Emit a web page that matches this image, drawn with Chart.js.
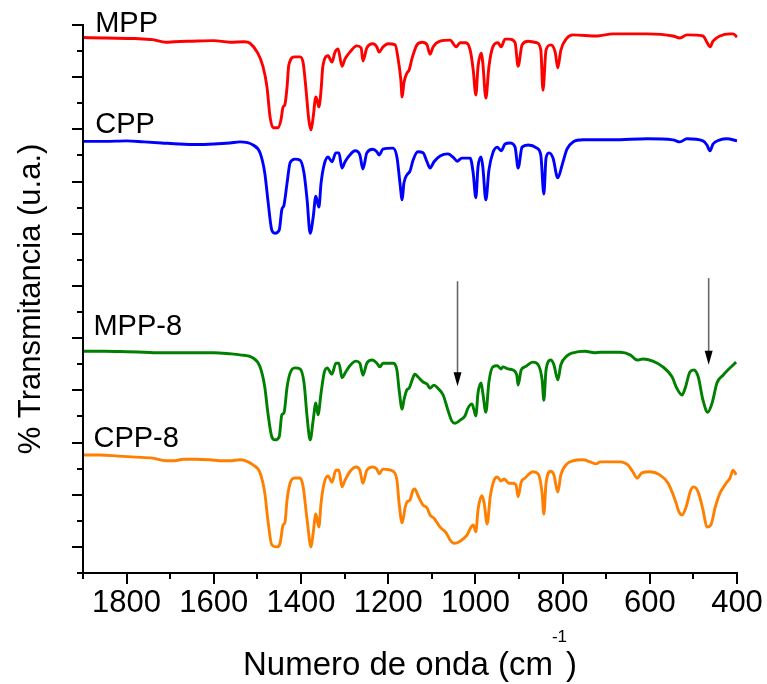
<!DOCTYPE html>
<html>
<head>
<meta charset="utf-8">
<script src="https://cdn.jsdelivr.net/npm/chart.js@4.4.1/dist/chart.umd.min.js"></script>
<style>
html,body{margin:0;padding:0;background:#ffffff;}
#wrap{width:767px;height:684px;position:relative;}
</style>
</head>
<body>
<div id="wrap"><canvas id="c" width="767" height="684"></canvas></div>
<script>
// ---------- DATA (wavenumber in cm-1, transmittance in offset arbitrary units) ----------
const mppWn = [1900,1850,1780,1740,1710,1690,1650,1600,1563,1530,1517,1499,1487,1478,1471,1464,1453,1446,1441,1437,1432,1428,1414,1402,1395,1389,1382,1377,1372,1366,1363,1359,1354,1350,1338,1329,1322,1315,1306,1299,1288,1272,1262,1258,1249,1235,1226,1221,1212,1200,1184,1178,1171,1168,1164,1157,1152,1145,1134,1122,1111,1104,1097,1081,1058,1044,1035,1022,1012,1005,999,994,987,983,976,969,960,948,941,932,921,909,902,893,879,859,850,845,838,827,817,811,804,790,776,721,684,606,547,531,515,478,469,462,455,439,416,409,400];
const mppT = [97.6,97.5,97.4,97.2,96.7,96.8,96.9,97.0,96.7,96.8,96.5,94.6,92.0,88.1,82.4,80.3,80.3,81.8,84.3,84.7,88.1,92.3,93.9,93.9,92.7,88.1,81.8,79.9,82.4,86.2,85.6,84.3,87.5,92.0,94.1,92.9,94.8,95.4,92.1,93.5,94.8,96.0,95.6,93.1,95.6,96.4,95.8,94.8,95.8,96.4,96.2,93.9,89.5,86.2,88.9,90.8,91.4,93.7,96.2,96.7,96.2,94.4,95.8,96.9,97.1,95.8,96.6,96.6,95.2,91.4,86.6,92.0,94.6,92.7,86.0,92.0,95.8,96.6,95.8,97.3,97.3,96.6,92.1,96.2,96.9,96.6,95.2,87.5,95.2,96.2,94.8,91.8,95.2,97.5,98.1,97.9,98.3,98.3,97.9,97.5,98.1,97.9,96.7,95.8,96.9,97.9,98.3,98.3,97.7];

const cppWn = [1900,1850,1800,1760,1720,1680,1640,1600,1563,1540,1510,1494,1483,1476,1467,1460,1450,1444,1439,1432,1425,1414,1402,1393,1386,1379,1372,1366,1359,1354,1347,1338,1329,1320,1313,1306,1299,1288,1276,1265,1258,1249,1235,1226,1221,1212,1189,1180,1173,1168,1164,1157,1150,1143,1132,1120,1111,1104,1095,1081,1063,1049,1042,1031,1012,1005,999,994,987,983,976,969,960,950,941,932,921,909,902,893,879,859,850,843,838,831,822,811,801,790,776,753,684,606,547,531,515,478,469,462,455,439,423,400];
const cppT = [77.7,77.7,77.8,77.6,77.4,77.2,77.1,77.2,77.4,77.6,77.0,75.5,71.6,66.5,60.7,60.1,60.7,64.6,65.5,69.7,73.6,74.3,74.1,71.6,66.5,60.1,63.2,67.2,65.1,69.7,73.2,74.7,73.8,75.5,75.5,72.6,73.8,75.1,75.9,75.1,72.4,75.5,76.2,75.7,75.1,76.2,76.4,74.7,69.7,66.5,69.7,71.3,72.0,74.1,75.7,75.5,73.8,72.6,73.8,74.9,75.3,74.5,73.9,74.5,74.5,71.6,66.9,72.8,74.7,72.8,66.5,72.2,75.5,76.6,75.9,77.2,77.4,76.6,72.6,76.6,77.0,76.4,75.1,67.6,74.5,75.5,74.5,70.7,73.2,76.2,77.6,78.0,78.0,78.2,78.0,77.6,78.2,77.8,77.0,75.9,77.2,78.0,78.2,77.8];

const mpp8Wn = [1900,1850,1800,1760,1720,1680,1640,1600,1563,1540,1510,1494,1483,1476,1467,1460,1450,1444,1439,1432,1425,1414,1402,1393,1386,1379,1372,1366,1361,1354,1347,1340,1329,1320,1313,1306,1299,1288,1274,1265,1258,1249,1237,1226,1219,1212,1189,1180,1175,1168,1164,1157,1152,1145,1139,1132,1120,1111,1104,1095,1086,1074,1063,1054,1047,1035,1024,1017,1008,1003,999,994,987,983,976,969,960,950,941,937,925,914,905,902,895,886,868,856,847,843,838,827,820,811,804,790,776,749,726,714,668,645,629,616,593,570,549,538,526,519,508,499,489,478,467,457,446,432,421,402];
const mpp8T = [37.5,37.5,37.4,37.3,37.2,37.2,37.2,37.2,37.0,36.8,36.2,34.5,30.6,25.7,21.1,20.5,21.1,25.3,25.7,30.6,33.3,34.3,34.1,31.4,24.9,20.5,24.3,27.6,25.3,29.5,33.3,34.3,33.1,35.2,35.2,32.4,33.3,34.7,35.6,35.2,32.9,35.2,35.8,35.2,34.5,35.2,35.2,33.9,30.1,26.4,28.1,30.1,30.4,32.0,33.1,32.6,31.6,31.2,30.4,31.0,30.4,29.1,26.2,24.1,23.7,24.3,25.1,26.6,27.4,26.2,25.1,29.5,31.4,29.5,25.8,31.6,34.5,34.7,34.1,34.5,34.1,33.9,32.9,31.0,33.9,34.5,35.4,34.9,32.0,28.1,33.9,35.8,34.9,32.0,34.9,36.6,37.2,37.5,37.2,37.3,37.3,36.8,35.8,36.0,35.6,34.5,32.6,30.4,29.1,30.4,33.5,33.9,32.6,28.1,25.8,27.6,31.4,32.9,33.9,35.4];

const cpp8Wn = [1900,1860,1820,1780,1740,1710,1690,1670,1640,1610,1580,1563,1540,1510,1494,1483,1476,1467,1455,1448,1441,1437,1432,1425,1414,1402,1395,1386,1377,1372,1366,1359,1354,1347,1338,1329,1320,1313,1306,1299,1288,1274,1265,1258,1249,1235,1226,1221,1212,1189,1180,1175,1168,1161,1157,1150,1143,1139,1132,1120,1111,1104,1095,1081,1067,1058,1049,1035,1019,1010,1005,999,994,985,980,973,966,957,950,941,934,923,914,907,902,895,886,868,856,847,843,838,827,820,811,804,790,776,753,737,723,714,668,650,639,629,618,600,577,558,542,533,526,517,506,499,489,478,469,460,450,439,425,416,409,402];
const cpp8T = [17.6,17.6,17.4,17.2,17.0,16.5,16.5,16.8,16.8,16.7,16.5,16.5,16.7,15.7,14.2,10.3,5.2,0.4,0.0,0.7,4.2,4.6,9.0,12.2,13.2,13.2,11.5,5.2,0.0,2.7,6.3,3.8,8.4,12.2,13.6,12.4,14.7,14.7,11.5,12.8,14.4,15.3,14.7,12.2,14.7,15.3,14.9,14.0,14.9,14.5,12.8,8.4,4.6,7.6,8.6,9.0,10.9,11.1,9.9,8.0,7.5,6.1,5.5,3.8,2.7,1.3,0.7,1.1,2.3,3.8,4.2,2.9,7.1,9.8,8.4,4.4,9.6,12.8,13.4,12.6,13.0,12.2,12.2,11.9,9.6,12.4,13.2,14.4,14.0,10.3,6.3,12.2,14.5,13.8,10.5,13.8,15.9,16.5,16.7,16.3,15.9,16.3,16.3,15.7,14.4,13.2,14.2,14.4,13.8,12.2,9.0,6.7,6.1,7.6,10.9,11.5,10.5,7.1,3.8,4.2,7.6,10.3,12.2,13.2,14.7,13.8];

const seriesNames = ['MPP', 'CPP', 'MPP-8', 'CPP-8'];
const xTickValues = [1800, 1600, 1400, 1200, 1000, 800, 600, 400];
// series label anchors [wavenumber, value]
const labelAnchors = [[1872, 98.7], [1872, 79.3], [1876, 40.6], [1876, 19.1]];
// arrows [wavenumber, start value, tip value]
const arrowMarks = [[1041, 50.9, 30.8], [465, 51.5, 34.9]];

// ---------- STYLE ----------
const FONT = '"Liberation Sans", Arial, Helvetica, sans-serif';
const seriesColors = ['#ff0000', '#0000ff', '#008000', '#ff7f00'];
const wnSets = [mppWn, cppWn, mpp8Wn, cpp8Wn];
const tSets = [mppT, cppT, mpp8T, cpp8T];

const datasets = seriesNames.map((name, i) => ({
  label: name,
  data: wnSets[i].map((w, k) => ({ x: w, y: tSets[i][k] })),
  borderColor: seriesColors[i],
  backgroundColor: seriesColors[i],
  borderWidth: 2.9,
  pointRadius: 0,
  fill: false,
  cubicInterpolationMode: 'monotone',
  clip: false
}));

const decor = {
  id: 'decor',
  afterDraw(chart) {
    const { ctx, chartArea: a, scales: { x, y } } = chart;
    ctx.save();
    // axis lines
    ctx.strokeStyle = '#000';
    ctx.lineWidth = 2;
    ctx.beginPath();
    ctx.moveTo(a.left, a.top - 1);
    ctx.lineTo(a.left, a.bottom);
    ctx.lineTo(a.right + 1, a.bottom);
    ctx.stroke();
    // x ticks
    for (let v = 400; v <= 1900; v += 100) {
      const px = Math.round(x.getPixelForValue(v));
      const len = (v % 200 === 0) ? 11 : 6;
      ctx.beginPath();
      ctx.moveTo(px, a.bottom);
      ctx.lineTo(px, a.bottom + len);
      ctx.stroke();
    }
    // y ticks
    for (let v = -5; v <= 100; v += 5) {
      const py = Math.round(y.getPixelForValue(v));
      const len = (v % 10 === 0) ? 11 : 6;
      ctx.beginPath();
      ctx.moveTo(a.left, py);
      ctx.lineTo(a.left - len, py);
      ctx.stroke();
    }
    // series labels
    ctx.fillStyle = '#000';
    ctx.font = '29px ' + FONT;
    ctx.textAlign = 'left';
    ctx.textBaseline = 'alphabetic';
    seriesNames.forEach((n, i) => {
      ctx.fillText(n, x.getPixelForValue(labelAnchors[i][0]), y.getPixelForValue(labelAnchors[i][1]));
    });
    // arrows
    arrowMarks.forEach(([w, v0, v1]) => {
      const px = x.getPixelForValue(w);
      const y0 = y.getPixelForValue(v0);
      const y1 = y.getPixelForValue(v1);
      ctx.strokeStyle = '#666';
      ctx.lineWidth = 1.6;
      ctx.beginPath();
      ctx.moveTo(px, y0);
      ctx.lineTo(px, y1 - 12);
      ctx.stroke();
      ctx.fillStyle = '#000';
      ctx.beginPath();
      ctx.moveTo(px - 4, y1 - 14);
      ctx.lineTo(px + 4, y1 - 14);
      ctx.lineTo(px, y1);
      ctx.closePath();
      ctx.fill();
    });
    // x axis title with superscript
    const mainF = '33px ' + FONT, supF = '17px ' + FONT;
    const t1 = 'Numero de onda (cm', t2 = '-1', t3 = ')';
    ctx.font = mainF; const w1 = ctx.measureText(t1).width; const w3 = ctx.measureText(t3).width;
    ctx.font = supF; const w2 = ctx.measureText(t2).width;
    const cx = (a.left + a.right) / 2;
    let sx = cx - (w1 + w2 + w3 - 2) / 2;
    const base = 675;
    ctx.fillStyle = '#000';
    ctx.textAlign = 'left';
    ctx.textBaseline = 'alphabetic';
    ctx.font = mainF; ctx.fillText(t1, sx, base); sx += w1 - 1;
    ctx.font = supF; ctx.fillText(t2, sx, base - 33); sx += w2 - 1;
    ctx.font = mainF; ctx.fillText(t3, sx, base);
    ctx.restore();
  }
};

new Chart(document.getElementById('c'), {
  type: 'line',
  data: { datasets },
  plugins: [decor],
  options: {
    responsive: false,
    devicePixelRatio: 1,
    animation: false,
    layout: { padding: { top: 25, right: 30, left: 0, bottom: 0 } },
    plugins: { legend: { display: false }, tooltip: { enabled: false } },
    scales: {
      x: {
        type: 'linear',
        min: 400,
        max: 1900,
        reverse: true,
        grid: { display: false, drawTicks: false },
        border: { display: false },
        afterBuildTicks: (s) => { s.ticks = xTickValues.map(v => ({ value: v })); },
        afterFit: (s) => { s.height = 111; s.paddingLeft = 0; s.paddingRight = 0; },
        ticks: {
          autoSkip: false,
          maxRotation: 0,
          padding: 12,
          color: '#000',
          font: { family: FONT, size: 31 },
          callback: (v) => String(v)
        }
      },
      y: {
        type: 'linear',
        min: -5,
        max: 100,
        grid: { display: false, drawTicks: false },
        border: { display: false },
        ticks: { display: false },
        afterFit: (s) => { s.width = 83; s.paddingTop = 0; s.paddingBottom = 0; },
        title: {
          display: true,
          text: '% Transmitancia (u.a.)',
          color: '#000',
          font: { family: FONT, size: 31 },
          padding: { top: 13, bottom: 0 }
        }
      }
    }
  }
});
</script>
</body>
</html>
